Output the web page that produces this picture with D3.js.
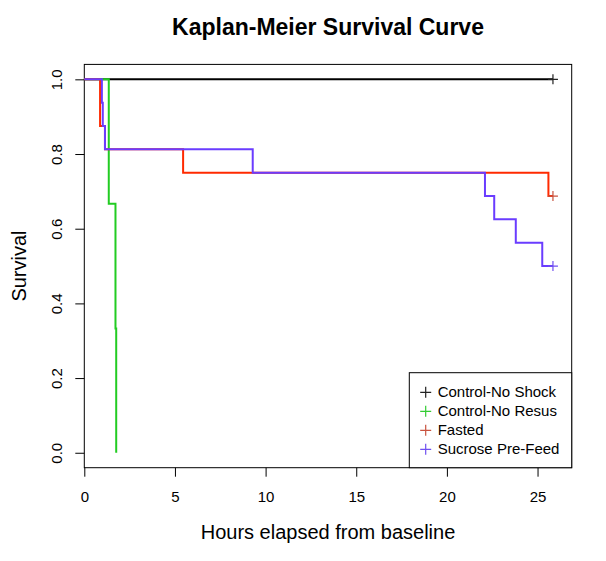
<!DOCTYPE html>
<html>
<head>
<meta charset="utf-8">
<script src="https://cdn.jsdelivr.net/npm/d3@7"></script>
<style>
  html, body { margin: 0; padding: 0; background: #fff; }
  svg { display: block; font-family: "Liberation Sans", Arial, Helvetica, sans-serif; }
</style>
</head>
<body>
<svg id="chart" width="606" height="561"></svg>
<script>
// Group names as they appear in the legend
const groupNames = ["Control-No Shock", "Control-No Resus", "Fasted", "Sucrose Pre-Feed"];

// Event times (hours) and Kaplan-Meier survival after each event
const noShockTimes = [0];
const noShockSurv  = [1];
const noResusTimes = [0, 1.35, 1.72, 1.76];
const noResusSurv  = [1, 0.667, 0.333, 0];
const fastedTimes  = [0, 0.87, 1.14, 5.45, 25.6];
const fastedSurv   = [1, 0.875, 0.8125, 0.75, 0.6875];
const sucroseTimes = [0, 0.97, 1.02, 1.14, 9.29, 22.1, 22.61, 23.8, 25.26];
const sucroseSurv  = [1, 0.9375, 0.875, 0.8125, 0.75, 0.6875, 0.625, 0.5625, 0.5];

// Censoring time for each group (null: no one censored)
const censorTimes = [25.85, null, 25.85, 25.85];

// Axis ticks
const xTicks = [0, 5, 10, 15, 20, 25];
const yTicks = [0, 0.2, 0.4, 0.6, 0.8, 1.0];

const lineColors   = ["#000000", "#22cc22", "#ff2a00", "#6a3cff"];
const markColors   = ["#222222", "#33cc33", "#c8533f", "#7050f0"];

const svg = d3.select("#chart");
const plot = { left: 84.3, right: 571.7, top: 64.4, bottom: 467.7 };

const maxTime = d3.max(censorTimes.filter(d => d != null));
const x = d3.scaleLinear().domain([0, maxTime * 1.04]).range([plot.left, plot.right]);
const y = d3.scaleLinear().domain([-0.04, 1.04]).range([plot.bottom, plot.top]);

// Plot frame
svg.append("rect")
  .attr("x", plot.left).attr("y", plot.top)
  .attr("width", plot.right - plot.left).attr("height", plot.bottom - plot.top)
  .attr("fill", "none").attr("stroke", "#000").attr("stroke-width", 1);

// X axis
const xAxis = svg.append("g")
  .attr("transform", `translate(0,${plot.bottom})`)
  .call(d3.axisBottom(x).tickValues(xTicks).tickFormat(d3.format("d")).tickSize(9).tickPadding(14.4));
xAxis.select(".domain").remove();
xAxis.selectAll("text").attr("font-size", 15).attr("font-family", null).attr("fill", "#000");
xAxis.selectAll("line").attr("stroke", "#000");

// Y axis with labels parallel to the axis
const yAxis = svg.append("g")
  .attr("transform", `translate(${plot.left},0)`)
  .call(d3.axisLeft(y).tickValues(yTicks).tickFormat(d3.format(".1f")).tickSize(9));
yAxis.select(".domain").remove();
yAxis.selectAll("line").attr("stroke", "#000");
yAxis.selectAll("text")
  .attr("font-size", 15).attr("font-family", null).attr("fill", "#000")
  .attr("transform", "rotate(-90)")
  .attr("x", 0).attr("y", -22.6).attr("dy", null)
  .attr("text-anchor", "middle");

// Survival curves
const groups = [
  { times: noShockTimes, surv: noShockSurv },
  { times: noResusTimes, surv: noResusSurv },
  { times: fastedTimes,  surv: fastedSurv },
  { times: sucroseTimes, surv: sucroseSurv }
];

const stepLine = d3.line()
  .x(d => x(d[0]))
  .y(d => y(d[1]))
  .curve(d3.curveStepAfter);

groups.forEach((g, i) => {
  const pts = g.times.map((t, k) => [t, g.surv[k]]);
  const endT = censorTimes[i];
  if (endT != null) pts.push([endT, g.surv[g.surv.length - 1]]);
  svg.append("path")
    .attr("d", stepLine(pts))
    .attr("fill", "none")
    .attr("stroke", lineColors[i])
    .attr("stroke-width", 2)
    .attr("stroke-linejoin", "miter");
  if (endT != null) {
    const cx = x(endT), cy = y(g.surv[g.surv.length - 1]);
    svg.append("path")
      .attr("d", `M${cx - 5},${cy}H${cx + 5}M${cx},${cy - 5}V${cy + 5}`)
      .attr("stroke", markColors[i]).attr("stroke-width", 1.2).attr("fill", "none");
  }
});

// Legend anchored in the bottom-right corner of the plot
const legend = { left: 409.3, top: 372.7 };
svg.append("rect")
  .attr("x", legend.left).attr("y", legend.top)
  .attr("width", plot.right - legend.left).attr("height", plot.bottom - legend.top)
  .attr("fill", "#fff").attr("stroke", "#000").attr("stroke-width", 1);

groupNames.forEach((name, i) => {
  const base = 397.3 + i * 19;
  const cx = 425.7, cy = base - 5;
  svg.append("path")
    .attr("d", `M${cx - 5.5},${cy}H${cx + 5.5}M${cx},${cy - 5.5}V${cy + 5.5}`)
    .attr("stroke", markColors[i]).attr("stroke-width", 1.2).attr("fill", "none");
  svg.append("text")
    .attr("x", 437.7).attr("y", base)
    .attr("font-size", 15).attr("fill", "#000")
    .text(name);
});

// Titles
svg.append("text")
  .attr("x", (plot.left + plot.right) / 2).attr("y", 35)
  .attr("text-anchor", "middle").attr("font-size", 23).attr("font-weight", "bold")
  .text("Kaplan-Meier Survival Curve");

svg.append("text")
  .attr("x", (plot.left + plot.right) / 2).attr("y", 539.3)
  .attr("text-anchor", "middle").attr("font-size", 20)
  .text("Hours elapsed from baseline");

svg.append("text")
  .attr("transform", `translate(25.5,${(plot.top + plot.bottom) / 2}) rotate(-90)`)
  .attr("text-anchor", "middle").attr("font-size", 20)
  .text("Survival");
</script>
</body>
</html>
